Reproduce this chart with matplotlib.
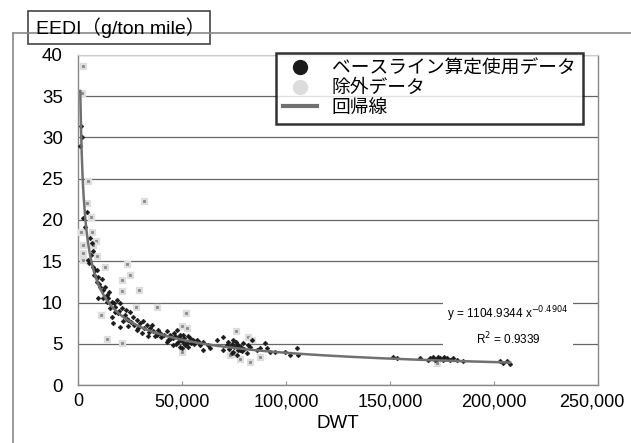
import matplotlib
matplotlib.use("Agg")
import numpy as np
import matplotlib.pyplot as plt
from matplotlib.lines import Line2D
from matplotlib.patches import Rectangle
from matplotlib.transforms import ScaledTranslation

plt.rcParams['font.family'] = ['Liberation Sans', 'Noto Sans CJK JP']

# baseline data (black)
base_dwt = [960, 1440, 1780, 2560, 4500, 3370, 5770, 6570, 7370, 4970, 7050, 7700,
            9780, 11400, 8970, 10600, 12200, 9780, 13800, 13800, 16200, 18600, 20200,
            17800, 15400, 21000, 19400, 16200, 22600, 25000, 26600, 24200, 21800, 28200,
            29800, 31400, 33000, 24200, 28200, 30600, 34600, 36200, 35400, 38600, 37800,
            33800, 39400, 42600, 44200, 42600, 45800, 47400, 48200, 50600, 52200, 53800,
            57000, 60200, 62600, 66600, 45800, 49000, 17000, 20200,
            58700, 60200, 63500, 69900, 69900, 72300, 73100, 74700, 74700, 76300, 76300,
            77900, 79500, 81100, 82700, 83500, 85900, 87500, 89900, 90700, 92300, 94700,
            99500, 101900, 105100, 105900,
            151600, 153200, 164400, 169200, 170800, 171600, 174000, 175600, 177200,
            178800, 180400, 182100, 185300, 202900, 204500, 206100, 207700,
            44000, 46500, 47000, 48500, 49500, 50500, 51000, 51500, 52800, 54500, 55500,
            46000, 49000, 50000, 53000, 56000, 58000,
            71500, 72800, 73800, 75000, 75800, 77000, 78500, 80000, 81500, 74000, 76800, 79000,
            172800, 173300, 176000, 168500,
            5500, 6200, 8300, 9000, 10300, 11900, 12800, 14600, 15000, 17200, 18000, 19900,
            22900, 23500, 25600, 27000, 29000, 31800, 34000, 36800, 40000, 41200, 43500]
base_eedi = [29.0, 31.4, 30.1, 20.2, 21.0, 19.2, 17.8, 17.2, 16.2, 15.2, 14.3, 13.3,
             13.1, 12.9, 12.5, 11.9, 11.5, 10.5, 10.9, 10.1, 10.1, 10.3, 9.9,
             9.5, 9.3, 9.3, 8.7, 8.3, 8.5, 8.9, 8.3, 7.9, 7.7, 7.9,
             7.5, 7.7, 7.3, 7.1, 6.7, 6.3, 6.9, 6.5, 7.3, 6.7, 6.1,
             5.9, 6.3, 6.5, 6.1, 5.25, 5.65, 6.7, 5.25, 6.1, 5.05, 5.65,
             5.45, 5.25, 4.85, 5.45, 4.85, 4.65, 7.5, 7.05,
             4.85, 4.25, 4.45, 5.85, 4.25, 5.25, 4.65, 5.45, 4.05, 4.85, 3.65,
             4.25, 5.05, 3.85, 4.65, 5.45, 4.25, 4.45, 5.05, 4.45, 4.05, 4.05,
             4.05, 3.65, 4.45, 3.65,
             3.45, 3.25, 3.25, 3.25, 3.45, 3.05, 3.25, 3.05, 3.25,
             3.05, 3.25, 3.05, 2.85, 2.85, 2.65, 2.85, 2.55,
             5.6, 5.9, 5.0, 5.8, 5.4, 5.2, 5.7, 4.8, 5.9, 5.1, 5.5,
             6.3, 6.1, 4.5, 4.6, 5.0, 5.2,
             4.9, 4.4, 5.0, 4.6, 5.2, 4.9, 4.6, 4.4, 4.9, 3.9, 4.3, 4.1,
             3.15, 3.35, 3.35, 3.05,
             14.8, 15.8, 13.9, 14.0, 12.2, 10.6, 11.9, 10.6, 11.3, 9.9, 8.9, 9.0,
             9.1, 8.0, 7.6, 7.3, 6.9, 6.9, 6.4, 5.9, 5.8, 6.1, 5.4]

# excluded data (gray)
excl_dwt = [2260, 2070, 4950, 31700, 4180, 6250, 1300, 6900, 2250, 8500, 7400, 2560,
            2560, 9300, 13000, 23400, 25000, 21000, 21000, 29300, 37800, 51800, 10900,
            27700, 14100, 21000, 50100, 52200, 50100, 75800, 81600, 83500, 74700, 77900,
            82700, 87500, 73100, 172400]
excl_eedi = [38.7, 35.4, 24.7, 22.3, 22.1, 20.4, 18.6, 18.6, 17.0, 17.4, 17.0, 16.0,
             15.2, 15.6, 14.3, 14.7, 13.3, 12.7, 11.4, 11.5, 9.4, 8.7, 8.5,
             9.4, 5.6, 5.05, 7.15, 6.9, 3.95, 6.5, 5.8, 5.45, 3.8, 3.2,
             2.75, 3.4, 3.65, 2.65]

# regression y = a * x^b
coef_a = 1104.9344
coef_b = -0.4904
r2 = 0.9339
fit_range = (1100, 207700)

W, H = 631, 443
fig = plt.figure(figsize=(W / 100, H / 100), dpi=100)
ax = fig.add_axes([78 / W, 1 - 385 / H, 520 / W, 330 / H])

ax.plot(excl_dwt, excl_eedi, ls='none', marker='s', ms=3.6, mfc='#888888',
        mec='#dedede', mew=1.6, zorder=3)
ax.plot(base_dwt, base_eedi, ls='none', marker='D', ms=2.4, mfc='#1a1a1a',
        mec='#1a1a1a', mew=0.4, zorder=4)
xf = np.linspace(fit_range[0], fit_range[1], 600)
ax.plot(xf, coef_a * xf ** coef_b, color='#707070', lw=1.8, zorder=5)

ax.set_xlim(0, 250000)
ax.set_ylim(0, 40)
ax.set_xticks(np.arange(0, 250001, 50000))
ax.set_yticks(np.arange(0, 41, 5))
ax.xaxis.set_major_formatter(matplotlib.ticker.FuncFormatter(lambda v, p: f"{int(v):,}"))
ax.tick_params(axis='x', direction='in', length=3, color='#999999', labelsize=13, pad=6)
ax.tick_params(axis='y', length=0, labelsize=13.5, pad=11)
ax.grid(axis='y', color='#666666', lw=0.9)
ax.set_axisbelow(True)
for s in ['left', 'bottom', 'right']:
    ax.spines[s].set_color('#888888')
    ax.spines[s].set_linewidth(1.0)
ax.spines['top'].set_color('#cccccc')
ax.spines['top'].set_linewidth(0.8)
ax.set_xlabel('DWT', fontsize=13.5, labelpad=3)

# last x label sits a little left in the original
last = ax.get_xticklabels()[-1]
last.set_transform(last.get_transform() + ScaledTranslation(-6 / 100, 0, fig.dpi_scale_trans))

ax.text(0.827, 0.18, "y = 1104.9344 x$^{-0.4904}$\nR$^{2}$ = %.4f" % r2,
        transform=ax.transAxes, ha='center', va='center', fontsize=8.5,
        multialignment='center', linespacing=1.5, zorder=6,
        bbox=dict(facecolor='white', edgecolor='none', pad=3))

handles = [Line2D([], [], ls='none', marker='o', ms=10, color='#1a1a1a'),
           Line2D([], [], ls='none', marker='o', ms=10, color='#dcdcdc'),
           Line2D([], [], color='#707070', lw=3)]
labels = ['ベースライン算定使用データ', '除外データ', '回帰線']
leg = ax.legend(handles, labels, loc='upper right', bbox_to_anchor=(583 / W, 1 - 53 / H),
                bbox_transform=fig.transFigure, fontsize=13.5, frameon=True, fancybox=False,
                labelspacing=0.12, handlelength=1.8, handletextpad=0.8, borderpad=0.4,
                borderaxespad=0)
leg.get_frame().set_edgecolor('black')
leg.get_frame().set_linewidth(1.8)
leg.set_zorder(10)

# outer frame and title box
fig.add_artist(Line2D([13 / W, 1], [1 - 33 / H, 1 - 33 / H], color='#888888', lw=1.2))
fig.add_artist(Line2D([13 / W, 13 / W], [0, 1 - 33 / H], color='#888888', lw=1.2))
fig.add_artist(Rectangle((28 / W, 1 - 44 / H), 182 / W, 33 / H, facecolor='white',
                         edgecolor='#444444', lw=1.2, transform=fig.transFigure))
fig.text(36 / W, 1 - 28 / H, 'EEDI（g/ton mile）', fontsize=14, va='center', ha='left')

fig.savefig('out.png', dpi=100)
